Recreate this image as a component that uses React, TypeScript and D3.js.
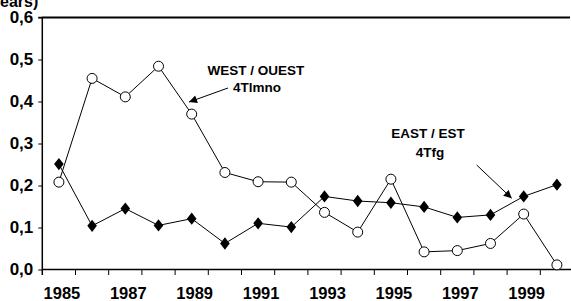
import React, { useEffect, useRef } from "react";
import * as d3 from "d3";

const years = [1985, 1986, 1987, 1988, 1989, 1990, 1991, 1992, 1993, 1994, 1995, 1996, 1997, 1998, 1999, 2000];
const east = [0.251, 0.104, 0.145, 0.105, 0.121, 0.062, 0.110, 0.101, 0.174, 0.163, 0.159, 0.149, 0.124, 0.130, 0.174, 0.202];
const west = [0.208, 0.455, 0.411, 0.484, 0.370, 0.231, 0.209, 0.208, 0.136, 0.089, 0.215, 0.042, 0.045, 0.062, 0.132, 0.011];
const yTicks = [0, 0.1, 0.2, 0.3, 0.4, 0.5, 0.6];
const xLabels = [1985, 1987, 1989, 1991, 1993, 1995, 1997, 1999];

const width = 571;
const height = 301;
const margin = { left: 42.3, top: 17.5, bottom: 269.5 };
const font = "'Liberation Sans', Arial, sans-serif";

export default function App() {
  const ref = useRef<SVGSVGElement>(null);

  useEffect(() => {
    const svg = d3.select(ref.current);
    svg.selectAll("*").remove();

    const x = d3
      .scaleBand<number>()
      .domain(years)
      .range([margin.left, margin.left + years.length * 33.2])
      .padding(0);
    const cx = (d: number) => (x(d) as number) + x.bandwidth() / 2;

    const y = d3.scaleLinear().domain([0, 0.6]).range([margin.bottom, margin.top]);

    const defs = svg.append("defs");
    defs
      .append("marker")
      .attr("id", "head")
      .attr("viewBox", "0 0 10 10")
      .attr("refX", 10)
      .attr("refY", 5)
      .attr("markerWidth", 9)
      .attr("markerHeight", 8)
      .attr("markerUnits", "userSpaceOnUse")
      .attr("orient", "auto")
      .append("path")
      .attr("d", "M0,0 L10,5 L0,10 Z")
      .attr("fill", "black");

    // title, cut off by the top edge as in the source
    svg
      .append("text")
      .attr("x", 0)
      .attr("y", 6.5)
      .attr("font-family", font)
      .attr("font-weight", "bold")
      .attr("font-size", 16)
      .text("ears)");

    // top border
    svg
      .append("line")
      .attr("x1", margin.left)
      .attr("x2", 570)
      .attr("y1", margin.top)
      .attr("y2", margin.top)
      .attr("stroke", "black")
      .attr("stroke-width", 2);

    // y axis
    const yAxis = d3
      .axisLeft(y)
      .tickValues(yTicks)
      .tickSize(4)
      .tickPadding(5)
      .tickFormat((d) => d3.format(".1f")(d as number).replace(".", ","));
    const gy = svg.append("g").attr("transform", `translate(${margin.left},0)`).call(yAxis);
    gy.select(".domain").attr("stroke-width", 1.5).attr("d", `M-4,${margin.top}H0V${margin.bottom + 5.5}`);
    gy.selectAll("text")
      .attr("font-family", font)
      .attr("font-weight", "bold")
      .attr("font-size", 17)
      .attr("fill", "black");

    // x axis
    const gx = svg.append("g").attr("transform", `translate(0,${margin.bottom})`);
    gx.append("line")
      .attr("x1", margin.left)
      .attr("x2", width + 5)
      .attr("stroke", "black")
      .attr("stroke-width", 1.5);
    gx.selectAll("line.tick")
      .data(years.slice(1))
      .enter()
      .append("line")
      .attr("class", "tick")
      .attr("x1", (d) => x(d) as number)
      .attr("x2", (d) => x(d) as number)
      .attr("y1", 0)
      .attr("y2", 5.5)
      .attr("stroke", "black")
      .attr("stroke-width", 1);
    gx.selectAll("text")
      .data(xLabels)
      .enter()
      .append("text")
      .attr("x", (d) => cx(d) + 3)
      .attr("y", 29)
      .attr("text-anchor", "middle")
      .attr("font-family", font)
      .attr("font-weight", "bold")
      .attr("font-size", 16.5)
      .text((d) => d);

    const line = d3
      .line<number>()
      .x((d, i) => cx(years[i]))
      .y((d) => y(d));

    // east series
    svg.append("path").attr("d", line(east)).attr("fill", "none").attr("stroke", "black").attr("stroke-width", 1);
    svg
      .append("g")
      .selectAll("path")
      .data(east)
      .enter()
      .append("path")
      .attr("d", d3.symbol(d3.symbolDiamond, 44))
      .attr("transform", (d, i) => `translate(${cx(years[i])},${y(d)}) scale(1.35,1)`)
      .attr("fill", "black");

    // west series
    svg.append("path").attr("d", line(west)).attr("fill", "none").attr("stroke", "black").attr("stroke-width", 1);
    svg
      .append("g")
      .selectAll("circle")
      .data(west)
      .enter()
      .append("circle")
      .attr("cx", (d, i) => cx(years[i]))
      .attr("cy", (d) => y(d))
      .attr("r", 5)
      .attr("fill", "white")
      .attr("stroke", "black")
      .attr("stroke-width", 1);

    // annotations
    const label = (tx: number, ty: number, t: string) =>
      svg
        .append("text")
        .attr("x", tx)
        .attr("y", ty)
        .attr("text-anchor", "middle")
        .attr("font-family", font)
        .attr("font-weight", "bold")
        .attr("font-size", 13.5)
        .text(t);
    label(256, 74.5, "WEST / OUEST");
    label(257, 91.5, "4Tlmno");
    label(428, 138, "EAST / EST");
    label(430, 156.5, "4Tfg");

    svg
      .append("line")
      .attr("x1", 228)
      .attr("y1", 88)
      .attr("x2", 189)
      .attr("y2", 102)
      .attr("stroke", "black")
      .attr("marker-end", "url(#head)");
    svg
      .append("line")
      .attr("x1", 476.7)
      .attr("y1", 165)
      .attr("x2", 511.7)
      .attr("y2", 198.3)
      .attr("stroke", "black")
      .attr("marker-end", "url(#head)");
  }, []);

  return (
    <svg
      ref={ref}
      width={width}
      height={height}
      style={{ position: "absolute", left: 0, top: 0, background: "white" }}
    ></svg>
  );
}
